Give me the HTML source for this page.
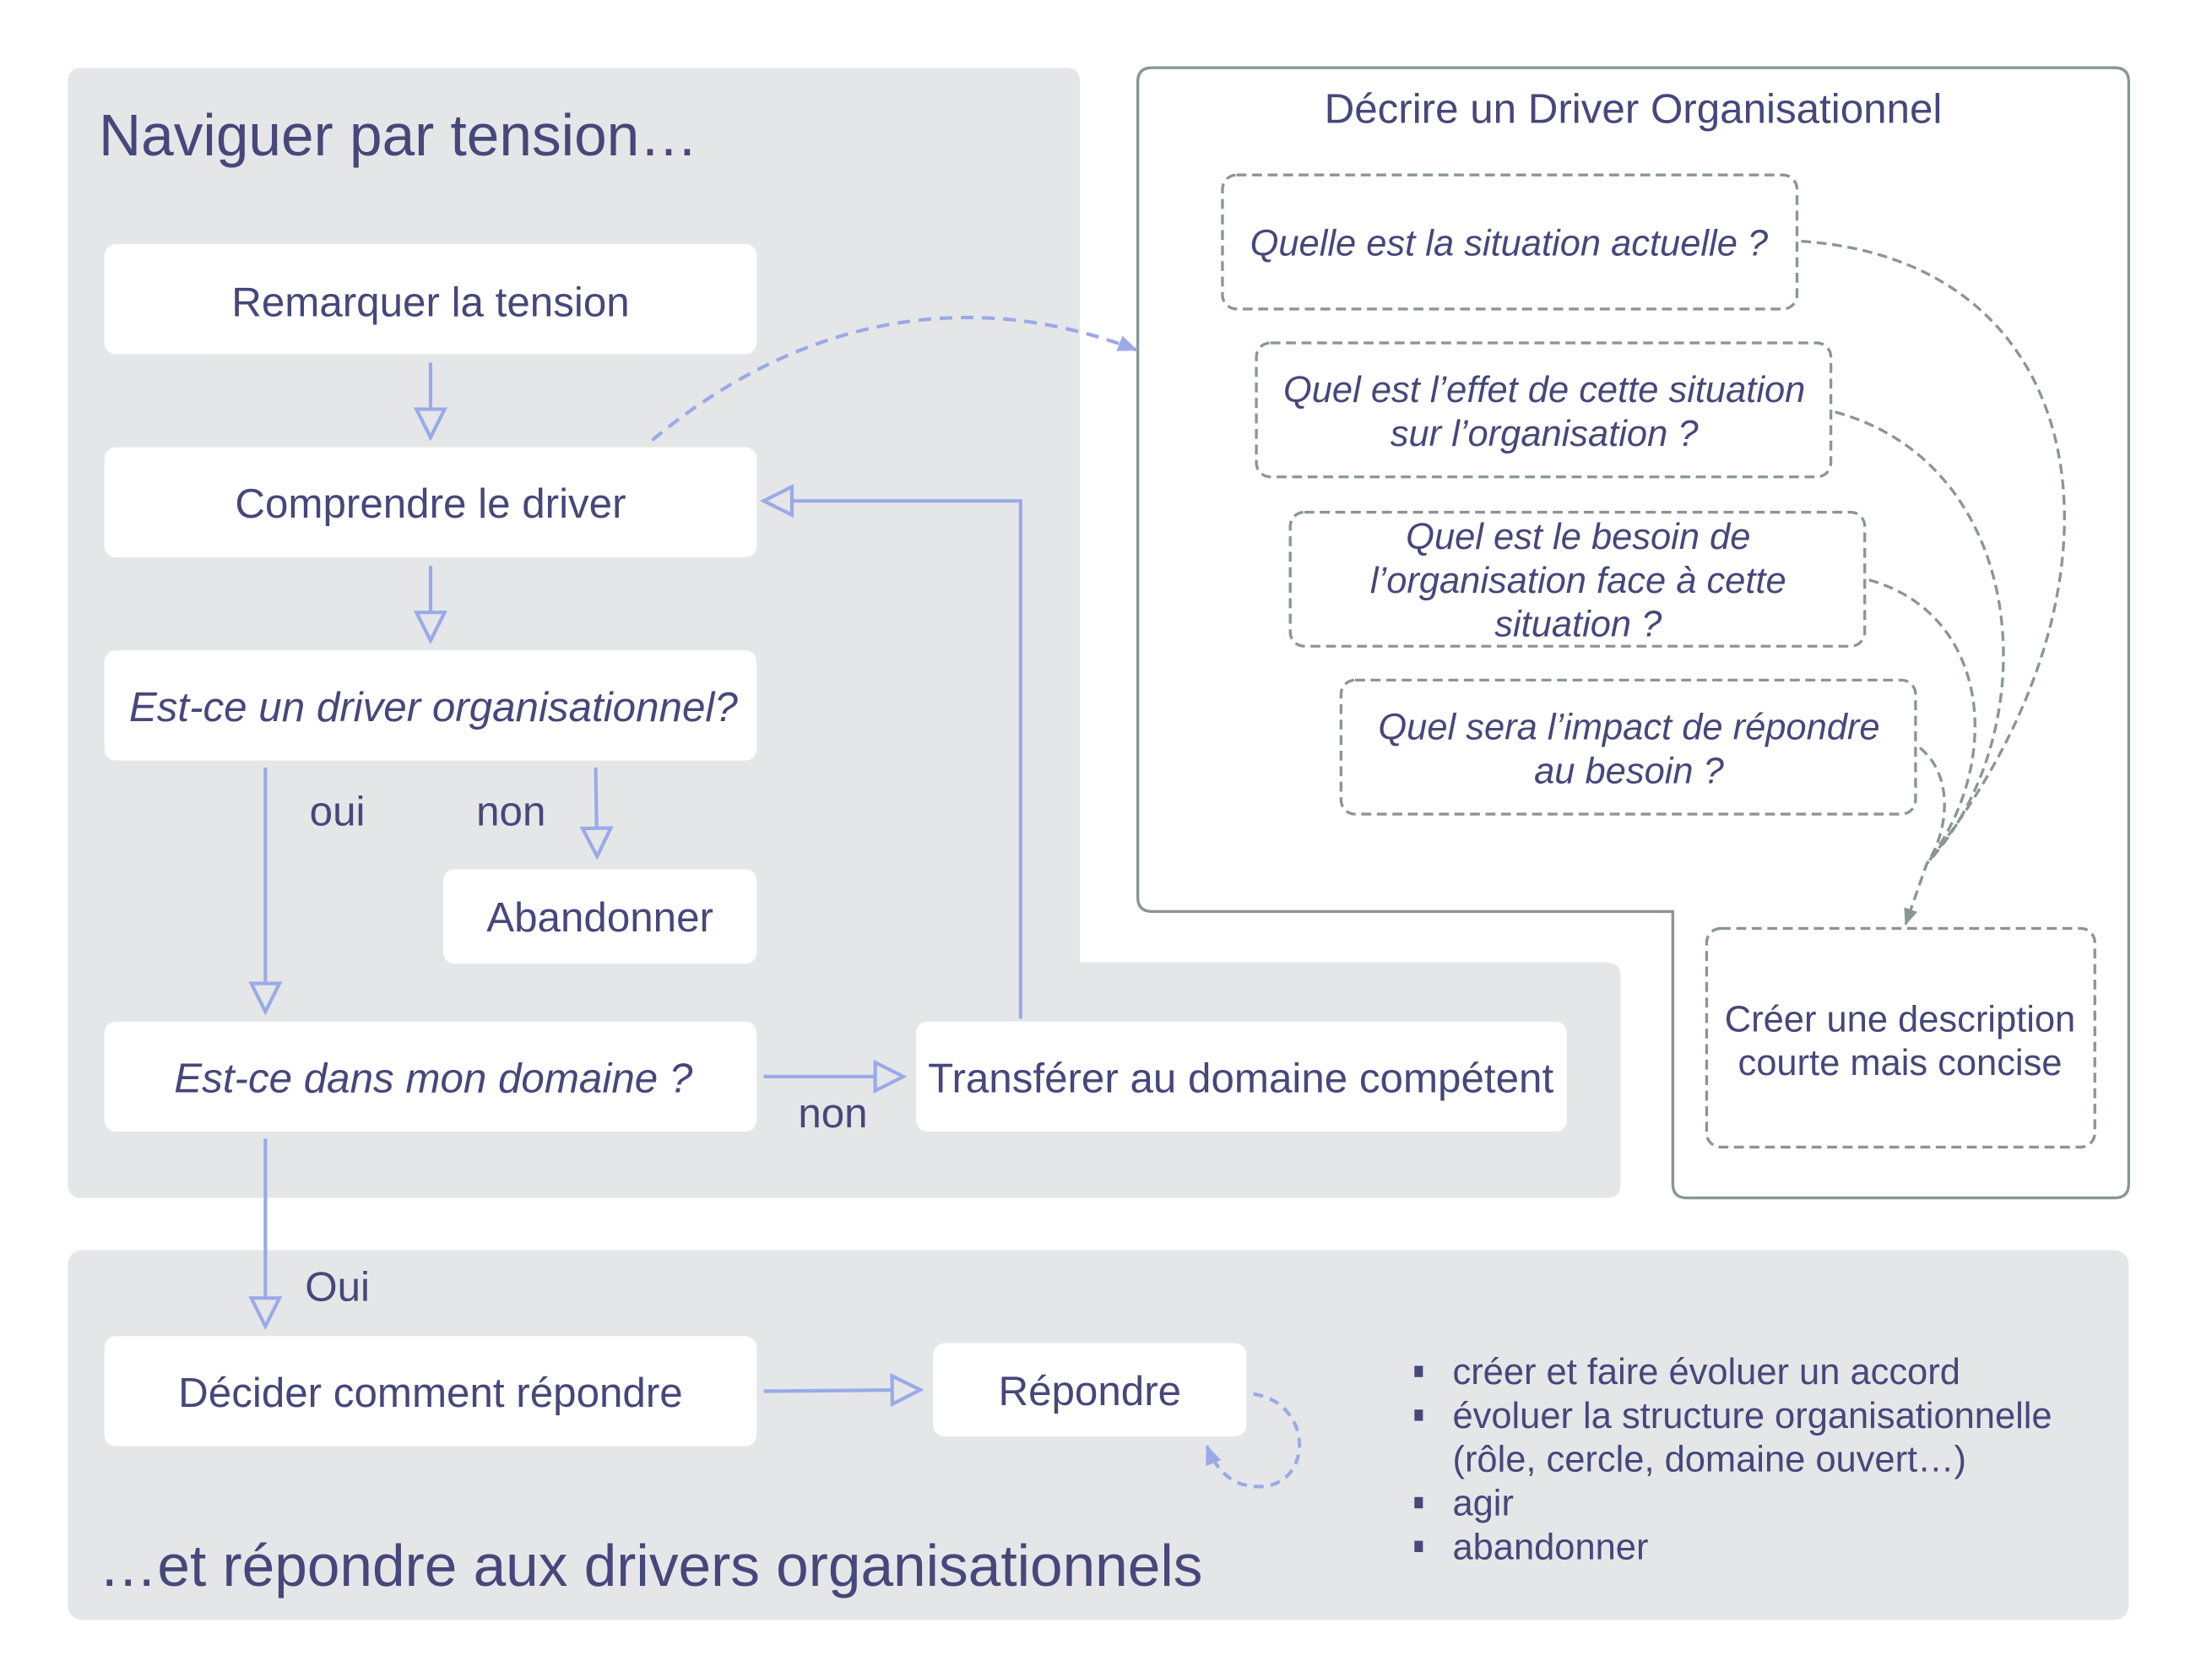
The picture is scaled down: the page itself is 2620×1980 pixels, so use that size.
<!DOCTYPE html>
<html><head><meta charset="utf-8"><style>
html,body{margin:0;padding:0;background:#fff;}
svg{display:block;}
text{font-family:"Liberation Sans",sans-serif;fill:#46477a;}
.it{font-style:italic;}
</style></head><body>
<svg width="2620" height="1980" viewBox="0 0 1567 1185" preserveAspectRatio="none" xmlns="http://www.w3.org/2000/svg">
<defs>
<marker id="tri2" viewBox="0 0 24 24" refX="22" refY="12" markerWidth="24" markerHeight="24" markerUnits="userSpaceOnUse" orient="auto">
<path d="M2,2 L22,12 L2,22 Z" fill="#e5e6e8" stroke="#9aaae8" stroke-width="2.5"/>
</marker>
<marker id="fb" viewBox="0 0 12 12" refX="11" refY="6" markerWidth="14" markerHeight="14" markerUnits="userSpaceOnUse" orient="auto">
<path d="M0,1 L12,6 L0,11 Z" fill="#9aaae8"/>
</marker>
<marker id="fg" viewBox="0 0 12 12" refX="11" refY="6" markerWidth="12" markerHeight="12" markerUnits="userSpaceOnUse" orient="auto">
<path d="M0,1 L12,6 L0,11 Z" fill="#8a9696"/>
</marker>
</defs>

<path d="M58,48 H755 Q765,48 765,58 V682 H1138 Q1148,682 1148,692 V839 Q1148,849 1138,849 H58 Q48,849 48,839 V58 Q48,48 58,48 Z" fill="#e5e6e8"/>
<text x="70" y="110" font-size="41.5">Naviguer par tension…</text>

<path d="M816,48 H1498 Q1508,48 1508,58 V839 Q1508,849 1498,849 H1195 Q1185,849 1185,839 V646 H816 Q806,646 806,636 V58 Q806,48 816,48 Z" fill="#fff" stroke="#8a9696" stroke-width="2"/>
<text x="1157" y="87" font-size="29.5" text-anchor="middle">Décrire un Driver Organisationnel</text>

<rect x="48" y="886" width="1460" height="262" rx="10" fill="#e5e6e8"/>

<g fill="#fff">
<rect x="74" y="173" width="462" height="78" rx="8"/>
<rect x="74" y="317" width="462" height="78" rx="8"/>
<rect x="74" y="461" width="462" height="78" rx="8"/>
<rect x="314" y="616" width="222" height="67" rx="8"/>
<rect x="74" y="724" width="462" height="78" rx="8"/>
<rect x="649" y="724" width="461" height="78" rx="8"/>
<rect x="74" y="947" width="462" height="78" rx="8"/>
<rect x="661" y="952" width="222" height="66" rx="8"/>
</g>
<g font-size="29.5" text-anchor="middle">
<text x="305" y="224">Remarquer la tension</text>
<text x="305" y="367">Comprendre le driver</text>
<text x="307" y="511" class="it">Est-ce un driver organisationnel?</text>
<text x="425" y="660">Abandonner</text>
<text x="307" y="774" class="it">Est-ce dans mon domaine ?</text>
<text x="879" y="774">Transférer au domaine compétent</text>
<text x="305" y="997">Décider comment répondre</text>
<text x="772" y="996">Répondre</text>
</g>

<g stroke="#9aaae8" stroke-width="2.5" fill="none">
<path d="M305,257 V310" marker-end="url(#tri2)"/>
<path d="M305,401 V454" marker-end="url(#tri2)"/>
<path d="M188,544 V717" marker-end="url(#tri2)"/>
<path d="M422,544 L423,607" marker-end="url(#tri2)"/>
<path d="M541,763 H640" marker-end="url(#tri2)"/>
<path d="M723,722 V355 H541" marker-end="url(#tri2)"/>
<path d="M188,807 V940" marker-end="url(#tri2)"/>
<path d="M541,986 L652,985" marker-end="url(#tri2)"/>
<path d="M462,312 C560,230 680,200 805,248" stroke-dasharray="9,6" marker-end="url(#fb)"/>
<path d="M888,988 C935,995 930,1065 880,1052 C868,1048 860,1038 855,1025" stroke-dasharray="7,5" marker-end="url(#fb)"/>
</g>
<g font-size="29.5">
<text x="239" y="585" text-anchor="middle">oui</text>
<text x="362" y="585" text-anchor="middle">non</text>
<text x="590" y="799" text-anchor="middle">non</text>
<text x="239" y="922" text-anchor="middle">Oui</text>
</g>

<g fill="none" stroke="#8a9696" stroke-width="2" stroke-dasharray="7,4">
<rect x="866" y="124" width="407" height="95" rx="10"/>
<rect x="890" y="243" width="407" height="95" rx="10"/>
<rect x="914" y="363" width="407" height="95" rx="10"/>
<rect x="950" y="482" width="407" height="95" rx="10"/>
<rect x="1209" y="658" width="275" height="155" rx="10"/>
<path d="M1276,171 C1490,185 1520,420 1365,612"/>
<path d="M1300,292 C1440,330 1450,520 1365,612"/>
<path d="M1324,411 C1410,435 1420,540 1365,612"/>
<path d="M1360,530 C1385,550 1380,590 1365,612 L1350,655" marker-end="url(#fg)"/>
</g>
<g font-size="26" text-anchor="middle">
<text x="1069" y="181" class="it">Quelle est la situation actuelle ?</text>
<text x="1094" y="285" class="it">Quel est l’effet de cette situation</text>
<text x="1094" y="316" class="it">sur l’organisation ?</text>
<text x="1118" y="389" class="it">Quel est le besoin de</text>
<text x="1118" y="420" class="it">l’organisation face à cette</text>
<text x="1118" y="451" class="it">situation ?</text>
<text x="1154" y="524" class="it">Quel sera l’impact de répondre</text>
<text x="1154" y="555" class="it">au besoin ?</text>
</g>
<g font-size="26" text-anchor="middle">
<text x="1346" y="731">Créer une description</text>
<text x="1346" y="762">courte mais concise</text>
</g>

<text x="70" y="1124" font-size="41.5">…et répondre aux drivers organisationnels</text>
<g font-size="26">
<rect x="1002" y="968" width="6" height="8" fill="#46477a"/>
<rect x="1002" y="999" width="6" height="8" fill="#46477a"/>
<rect x="1002" y="1061" width="6" height="8" fill="#46477a"/>
<rect x="1002" y="1092" width="6" height="8" fill="#46477a"/>
<text x="1029" y="981">créer et faire évoluer un accord</text>
<text x="1029" y="1012">évoluer la structure organisationnelle</text>
<text x="1029" y="1043">(rôle, cercle, domaine ouvert…)</text>
<text x="1029" y="1074">agir</text>
<text x="1029" y="1105">abandonner</text>
</g>
</svg>
</body></html>
